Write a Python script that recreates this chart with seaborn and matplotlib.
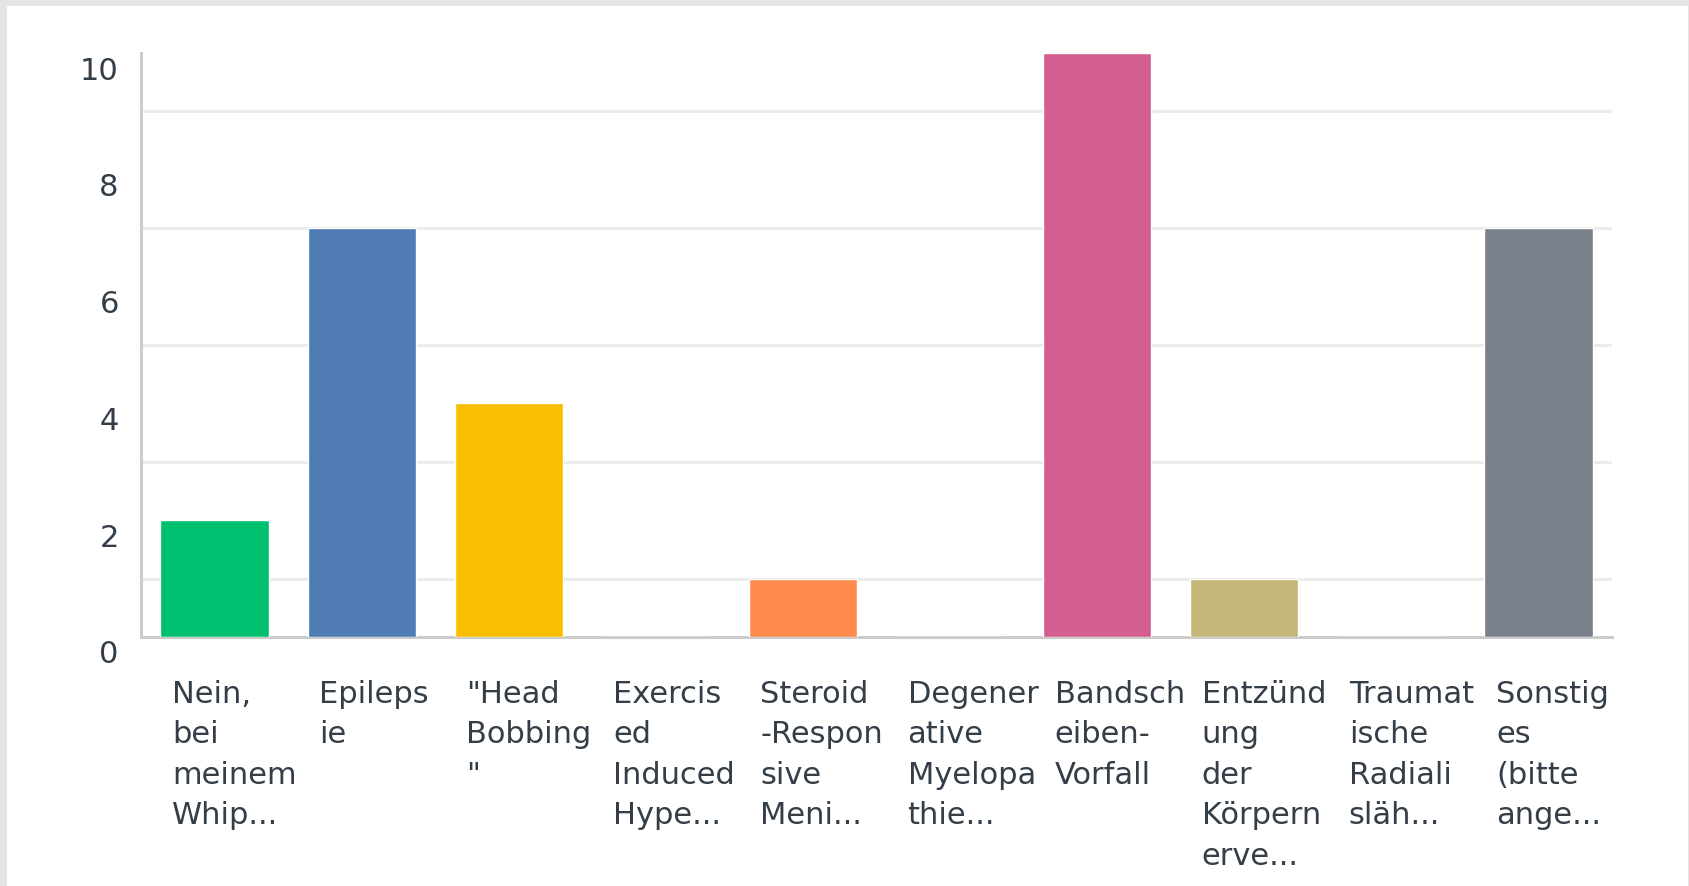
import matplotlib
matplotlib.use("Agg")
import matplotlib.pyplot as plt
import matplotlib.transforms as mtransforms
from matplotlib.patches import Rectangle
import seaborn as sns
import pandas as pd

# ---- data ----
categories = [
    "Nein,\nbei\nmeinem\nWhip...",
    "Epileps\nie",
    "\"Head\nBobbing\n\"",
    "Exercis\ned\nInduced\nHype...",
    "Steroid\n-Respon\nsive\nMeni...",
    "Degener\native\nMyelopa\nthie...",
    "Bandsch\neiben-\nVorfall",
    "Entzünd\nung\nder\nKörpern\nerve...",
    "Traumat\nische\nRadiali\nsläh...",
    "Sonstig\nes\n(bitte\nange...",
]
values = [2, 7, 4, 0, 1, 0, 10, 1, 0, 7]
colors = ["#00BF6F", "#507CB6", "#F9BE00", "#6BC8CD", "#FF8B4F",
          "#7D5E90", "#D25F90", "#C7B679", "#A0A0A0", "#7A8089"]
y_ticks = [0, 2, 4, 6, 8, 10]
y_grid = [1, 2, 3, 4, 5, 6, 7, 8, 9]

W, H, DPI = 1690, 887, 100
TEXT = "#333e48"

sns.set_theme(style="white")
plt.rcParams["font.family"] = ["DejaVu Sans"]

fig = plt.figure(figsize=(W / DPI, H / DPI), dpi=DPI)
fig.patch.set_facecolor("#e5e5e5")
fig.patches.append(Rectangle((7 / W, 0), (1688 - 7) / W, (H - 7) / H,
                             transform=fig.transFigure, facecolor="white",
                             edgecolor="none", zorder=-10))

ax = fig.add_axes([141 / W, (H - 638) / H, (1612 - 141) / W, (638 - 54) / H])
ax.set_facecolor("none")

df = pd.DataFrame({"cat": categories, "val": values})
sns.barplot(data=df, x="cat", y="val", hue="cat", palette=colors,
            width=0.735, legend=False, ax=ax, saturation=1, zorder=3)

ax.set_ylim(0, 10)
ax.set_xlim(-0.5, len(categories) - 0.5)
ax.set_xlabel("")
ax.set_ylabel("")

# grid
ax.set_yticks(y_ticks)
ax.set_yticks(y_grid, minor=True)
ax.grid(False)
ax.grid(True, which="minor", axis="y", color="#ececec", linewidth=2.2, zorder=0)
ax.set_axisbelow(True)

for s in ["top", "right"]:
    ax.spines[s].set_visible(False)
for s in ["left", "bottom"]:
    ax.spines[s].set_color("#cccccc")
    ax.spines[s].set_linewidth(2.2)
    ax.spines[s].set_zorder(1)

ax.tick_params(axis="both", which="both", length=0)
ax.tick_params(axis="y", pad=16, labelsize=22, labelcolor=TEXT)
ax.set_yticklabels([str(t) for t in y_ticks])
off_y = mtransforms.ScaledTranslation(0, -14 / DPI, fig.dpi_scale_trans)
for lab in ax.get_yticklabels():
    lab.set_transform(lab.get_transform() + off_y)

ax.set_xticks(range(len(categories)))
ax.set_xticklabels(categories, ha="left", va="top", fontsize=22,
                   color=TEXT, linespacing=1.5)
ax.tick_params(axis="x", pad=30)
off_x = mtransforms.ScaledTranslation(-42.5 / DPI, 0, fig.dpi_scale_trans)
for lab in ax.get_xticklabels():
    lab.set_transform(lab.get_transform() + off_x)

fig.savefig("out.png", dpi=DPI, facecolor=fig.get_facecolor())
